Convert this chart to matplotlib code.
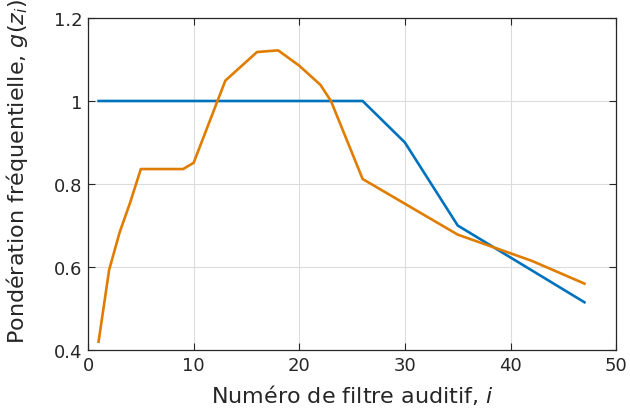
import matplotlib
matplotlib.use("Agg")
import matplotlib.pyplot as plt

# courbe bleue (points de rupture)
x_bleu = [1, 26, 30, 35, 47]
g_bleu = [1.0, 1.0, 0.9, 0.7, 0.515]

# courbe orange
x_orange = [1, 2, 3, 4, 5, 9, 10, 13, 16, 18, 20, 22, 23, 26, 35, 42, 47]
g_orange = [0.42, 0.593, 0.684, 0.756, 0.836, 0.836, 0.851, 1.049, 1.118,
            1.122, 1.085, 1.039, 1.0, 0.812, 0.678, 0.615, 0.56]

x_ticks = [0, 10, 20, 30, 40, 50]
y_ticks = [0.4, 0.6, 0.8, 1.0, 1.2]
y_ticklabels = ["0.4", "0.6", "0.8", "1", "1.2"]

txt = "#262626"
plt.rcParams["font.family"] = ["DejaVu Sans"]
plt.rcParams["mathtext.fontset"] = "dejavusans"

fig = plt.figure(figsize=(6.3, 4.1), dpi=100)
ax = fig.add_axes([0.1397, 0.1439, 0.8383, 0.8098])

ax.plot(x_bleu, g_bleu, color="#0072BD", lw=1.9)
ax.plot(x_orange, g_orange, color="#E07D00", lw=1.9)

ax.set_xlim(0, 50)
ax.set_ylim(0.4, 1.2)
ax.set_xticks(x_ticks)
ax.set_yticks(y_ticks)
ax.set_yticklabels(y_ticklabels)
ax.grid(True, color="#dcdcdc", lw=0.8)
ax.set_axisbelow(True)

ax.tick_params(direction="in", top=True, right=True, length=5, width=0.8,
               labelsize=13, colors=txt, pad=4)
for s in ax.spines.values():
    s.set_color(txt)
    s.set_linewidth(0.9)

ax.set_xlabel(r"Numéro de filtre auditif, $i$", fontsize=16, color=txt, labelpad=6)
ax.set_ylabel(r"Pondération fréquentielle, $g(z_i)$", fontsize=16, color=txt)
ax.yaxis.set_label_coords(-0.11, 0.54)

fig.savefig("out.png", dpi=100)
